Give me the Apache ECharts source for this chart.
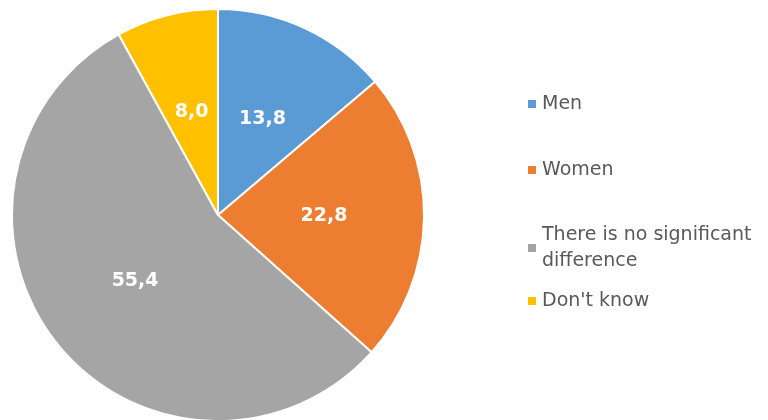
<!DOCTYPE html>
<html>
<head>
<meta charset="utf-8">
<script src="https://cdn.jsdelivr.net/npm/echarts@6/dist/echarts.min.js"></script>
<style>
  html, body { margin: 0; padding: 0; background: #fff; }
  #chart { width: 768px; height: 420px; }
</style>
</head>
<body>
<div id="chart"></div>
<script>
const categories = ["Men", "Women", "There is no significant difference", "Don't know"];
const values = [13.8, 22.8, 55.4, 8.0];
const colors = ["#5B9BD5", "#ED7D31", "#A5A5A5", "#FFC000"];
const legendTops = [86, 152, 217, 283];

var chartDom = document.getElementById("chart");
var myChart = echarts.init(chartDom);

// one legend per item so the spacing follows the reference
var legends = categories.map(function (name, i) {
  return {
    data: [name],
    left: 521,
    top: legendTops[i],
    orient: "vertical",
    icon: "rect",
    itemWidth: 10,
    itemHeight: 10,
    itemGap: 0,
    selectedMode: false,
    textStyle: {
      fontFamily: "DejaVu Sans",
      fontSize: 19,
      color: "#595959",
      lineHeight: 26,
    },
    formatter: function (n) {
      return n === "There is no significant difference"
        ? "There is no significant\ndifference"
        : n;
    },
  };
});

var option = {
  animation: false,
  color: colors,
  legend: legends,
  series: [
    {
      type: "pie",
      center: [218, 215],
      radius: 206,
      startAngle: 90,
      clockwise: true,
      itemStyle: {
        borderColor: "#fff",
        borderWidth: 2,
      },
      label: {
        show: true,
        position: "inside",
        color: "#fff",
        fontFamily: "DejaVu Sans",
        fontWeight: "bold",
        fontSize: 19,
        formatter: function (p) {
          return p.value.toFixed(1).replace(".", ",");
        },
      },
      labelLine: { show: false },
      data: categories.map(function (name, i) {
        return { name: name, value: values[i] };
      }),
    },
  ],
};

option && myChart.setOption(option);
</script>
</body>
</html>
